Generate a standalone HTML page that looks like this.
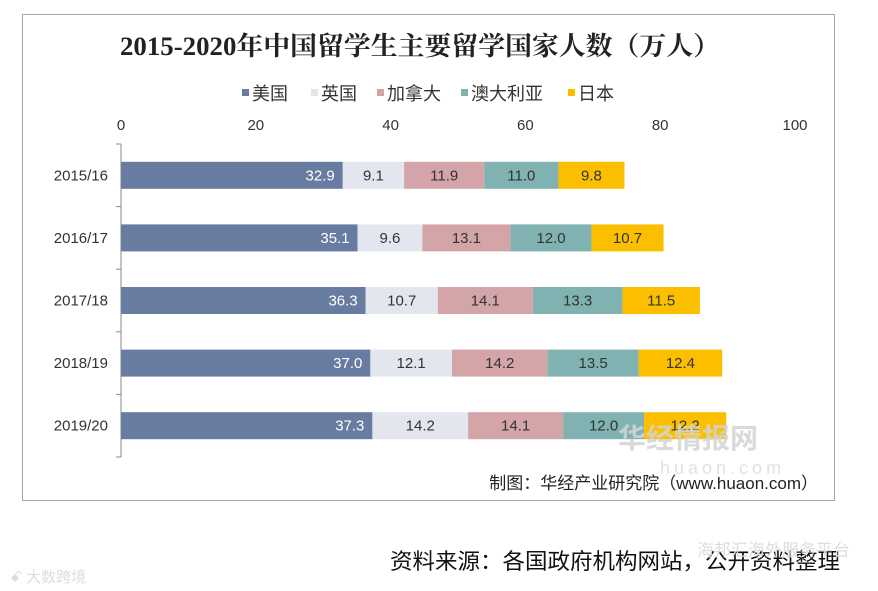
<!DOCTYPE html>
<html><head><meta charset="utf-8"><style>
body{margin:0;background:#fff;width:878px;height:591px;overflow:hidden;position:relative;font-family:"Liberation Sans","Noto Sans CJK SC",sans-serif}
svg{position:absolute;left:0;top:0}
</style></head><body>
<svg width="878" height="591">
<rect x="22.5" y="14.5" width="812" height="486" fill="#fff" stroke="#a6a6a6"/>
<text x="420" y="55" text-anchor="middle" font-family="'Liberation Serif','Noto Serif CJK SC',serif" font-weight="bold" font-size="26" fill="#222" textLength="600" lengthAdjust="spacingAndGlyphs">2015-2020年中国留学生主要留学国家人数（万人）</text>
<g id="legend"></g>
<g id="xaxis"></g>
<g id="yaxis"></g>
<g id="bars"></g>
<text x="618" y="448" font-size="28" font-weight="bold" fill="#d4d4d4" fill-opacity="0.85">华经情报网</text>
<text x="660" y="474" font-size="18" fill="#e2e2e2" letter-spacing="4">huaon.com</text>
<text x="818" y="489" text-anchor="end" font-size="17" fill="#222">制图：华经产业研究院（www.huaon.com）</text>
<text x="840" y="569" text-anchor="end" font-size="22" fill="#111" textLength="450" lengthAdjust="spacingAndGlyphs">资料来源：各国政府机构网站，公开资料整理</text>
<text x="850" y="556" text-anchor="end" font-size="17" fill="#ddd">海邦汇海外服务平台</text>
<text x="10" y="582" font-size="15" fill="#ddd">ꗃ 大数跨境</text>
</svg>
<script>
const categories=["2015/16","2016/17","2017/18","2018/19","2019/20"];
const seriesNames=["美国","英国","加拿大","澳大利亚","日本"];
const usa=[32.9,35.1,36.3,37.0,37.3];
const uk=[9.1,9.6,10.7,12.1,14.2];
const canada=[11.9,13.1,14.1,14.2,14.1];
const australia=[11.0,12.0,13.3,13.5,12.0];
const japan=[9.8,10.7,11.5,12.4,12.2];
const xTicks=[0,20,40,60,80,100];
const series=[usa,uk,canada,australia,japan];
const colors=["#687ba0","#e4e6ef","#d4a5a8","#7fb2b0","#fbbf00"];
const labelColors=["#fff","#333","#333","#333","#333"];
const NS="http://www.w3.org/2000/svg";
const x0=121,x1=795,yTop=144,band=62.6,barH=27;
const xs=v=>x0+(x1-x0)*v/100;
const yc=i=>yTop+band*(i+0.5);
function mk(t,a,p){const e=document.createElementNS(NS,t);for(const k in a)e.setAttribute(k,a[k]);p.appendChild(e);return e;}
const gx=document.getElementById('xaxis');
xTicks.forEach(t=>{const e=mk('text',{x:xs(t),y:130,'text-anchor':'middle','font-size':15,fill:'#333'},gx);


e.textContent=t;});
const gy=document.getElementById('yaxis');
const ax=mk('line',{x1:x0,x2:x0,y1:yTop,y2:yTop+band*categories.length,stroke:'#888'},gy);


for(let i=0;i<=categories.length;i++){const tk=mk('line',{x1:x0-5,x2:x0,y1:yTop+band*i,y2:yTop+band*i,stroke:'#888'},gy);

}
categories.forEach((c,i)=>{const e=mk('text',{x:108,y:yc(i)+5,'text-anchor':'end','font-size':15,fill:'#333'},gy);


e.textContent=c;});
const gb=document.getElementById('bars');
categories.forEach((c,i)=>{let acc=0;series.forEach((s,j)=>{const v=s[i];
const r=mk('rect',{x:xs(acc),y:yc(i)-barH/2,width:xs(acc+v)-xs(acc),height:barH,fill:colors[j]},gb);


const mid=j==0?xs(acc+v)-8:(xs(acc)+xs(acc+v))/2;
const t=mk('text',{x:mid,y:yc(i)+5,'text-anchor':j==0?'end':'middle','font-size':15,fill:labelColors[j]},gb);


t.textContent=v.toFixed(1);acc+=v;});});
const gl=document.getElementById('legend');
const lx=[242,311,377,461,568];
seriesNames.forEach((n,j)=>{const g=mk('g',{},gl);


mk('rect',{x:lx[j],y:89,width:7,height:7,fill:colors[j]},g);
const t=mk('text',{x:lx[j]+10,y:100,'font-size':18,fill:'#333'},g);t.textContent=n;});
</script>
</body></html>
